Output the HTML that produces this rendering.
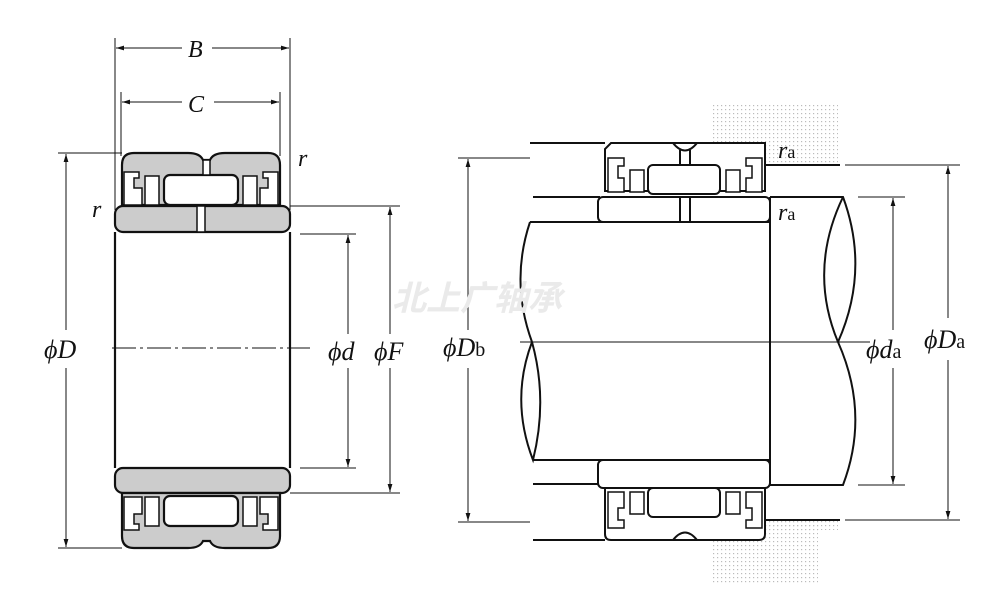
<!DOCTYPE html>
<html><head><meta charset="utf-8"><style>
html,body{margin:0;padding:0;background:#fff;width:1005px;height:600px;overflow:hidden}
svg{display:block}
text{font-family:"Liberation Serif",serif;font-style:italic;fill:#111}
.s{font-style:normal}
</style></head><body>
<svg width="1005" height="600" viewBox="0 0 1005 600">
<defs>
<pattern id="dots" width="4" height="4" patternUnits="userSpaceOnUse"><rect x="1" y="1" width="1.2" height="1.2" fill="#bbb"/></pattern>
<marker id="a" viewBox="0 0 10 10" refX="10" refY="5" markerWidth="8" markerHeight="8" orient="auto-start-reverse"><path d="M0,2 L10,5 L0,8 z" fill="#111"/></marker>
</defs>
<g stroke="#111" stroke-width="1" fill="none">
<!-- LEFT dimension lines -->
<line x1="115" y1="38" x2="115" y2="210"/><line x1="290" y1="38" x2="290" y2="210"/>
<line x1="121" y1="92" x2="121" y2="156"/><line x1="280" y1="92" x2="280" y2="156"/>
<line x1="116" y1="48" x2="182" y2="48" marker-start="url(#a)"/><line x1="212" y1="48" x2="289" y2="48" marker-end="url(#a)"/>
<line x1="122" y1="102" x2="182" y2="102" marker-start="url(#a)"/><line x1="214" y1="102" x2="279" y2="102" marker-end="url(#a)"/>
<line x1="58" y1="153" x2="122" y2="153"/><line x1="58" y1="548" x2="122" y2="548"/>
<line x1="66" y1="154" x2="66" y2="330" marker-start="url(#a)"/><line x1="66" y1="368" x2="66" y2="547" marker-end="url(#a)"/>
<line x1="290" y1="206" x2="400" y2="206"/><line x1="290" y1="493" x2="400" y2="493"/>
<line x1="300" y1="234" x2="356" y2="234"/><line x1="300" y1="468" x2="356" y2="468"/>
<line x1="348" y1="235" x2="348" y2="334" marker-start="url(#a)"/><line x1="348" y1="368" x2="348" y2="467" marker-end="url(#a)"/>
<line x1="390" y1="207" x2="390" y2="334" marker-start="url(#a)"/><line x1="390" y1="368" x2="390" y2="492" marker-end="url(#a)"/>
<line x1="112" y1="348" x2="310" y2="348" stroke-dasharray="24,4,3,4"/>
</g>
<!-- LEFT bearing -->
<g stroke="#111" stroke-width="2.2">
<path d="M122,165 Q122,153 134,153 H188 Q200,153 203,160 H210 Q213,153 225,153 H268 Q280,153 280,165 V205 H122 Z" fill="#ccc"/>
<rect x="115" y="206" width="175" height="26" rx="8" fill="#ccc"/>
<rect x="115" y="468" width="175" height="25" rx="8" fill="#ccc"/>
<path d="M122,493 H280 V536 Q280,548 268,548 H225 Q213,548 210,541 H203 Q200,548 188,548 H134 Q122,548 122,536 Z" fill="#ccc"/>
<rect x="164" y="175" width="74" height="30" rx="6" fill="#fff"/>
<rect x="164" y="496" width="74" height="30" rx="6" fill="#fff"/>
<line x1="115" y1="232" x2="115" y2="468"/><line x1="290" y1="232" x2="290" y2="468"/>
<rect x="197" y="206" width="8" height="26" fill="#fff" stroke-width="1.5"/>
<rect x="203" y="160" width="7" height="15" fill="#fff" stroke-width="1.5"/>
</g>
<g stroke="#111" stroke-width="1.5" fill="#fff">
<path d="M124,172 h15 v6 h-5 v10 h8 v17 h-18 z"/><path d="M145,176 h14 v29 h-14 z"/>
<path d="M278,172 h-15 v6 h5 v10 h-8 v17 h18 z"/><path d="M257,176 h-14 v29 h14 z"/>
<path d="M124,530 h15 v-6 h-5 v-10 h8 v-17 h-18 z"/><path d="M145,526 h14 v-29 h-14 z"/>
<path d="M278,530 h-15 v-6 h5 v-10 h-8 v-17 h18 z"/><path d="M257,526 h-14 v-29 h14 z"/>
</g>
<text x="298" y="166" font-size="24">r</text>
<text x="92" y="217" font-size="24">r</text>
<text x="188" y="57" font-size="24">B</text>
<text x="188" y="112" font-size="24">C</text>
<text x="44" y="358" font-size="26">ϕD</text>
<text x="328" y="360" font-size="26">ϕd</text>
<text x="374" y="360" font-size="26">ϕF</text>

<!-- RIGHT -->
<rect x="713" y="103" width="125" height="62" fill="url(#dots)"/>
<rect x="765" y="520" width="73" height="10" fill="url(#dots)"/>
<rect x="713" y="522" width="105" height="62" fill="url(#dots)"/>
<g stroke="#111" stroke-width="1" fill="none">
<line x1="458" y1="158" x2="530" y2="158"/><line x1="458" y1="522" x2="530" y2="522"/>
<line x1="468" y1="159" x2="468" y2="330" marker-start="url(#a)"/><line x1="468" y1="368" x2="468" y2="521" marker-end="url(#a)"/>
<line x1="845" y1="165" x2="960" y2="165"/><line x1="845" y1="520" x2="960" y2="520"/>
<line x1="948" y1="166" x2="948" y2="318" marker-start="url(#a)"/><line x1="948" y1="360" x2="948" y2="519" marker-end="url(#a)"/>
<line x1="858" y1="197" x2="905" y2="197"/><line x1="858" y1="485" x2="905" y2="485"/>
<line x1="893" y1="198" x2="893" y2="330" marker-start="url(#a)"/><line x1="893" y1="368" x2="893" y2="484" marker-end="url(#a)"/>
<line x1="520" y1="342" x2="870" y2="342"/>
</g>
<g stroke="#111" stroke-width="2" fill="none">
<line x1="530" y1="143" x2="605" y2="143"/><line x1="533" y1="197" x2="600" y2="197"/>
<line x1="765" y1="165" x2="840" y2="165"/>
<line x1="533" y1="484" x2="600" y2="484"/><line x1="533" y1="540" x2="605" y2="540"/>
<line x1="765" y1="520" x2="840" y2="520"/>
<!-- shaft -->
<path d="M530,222 H770 V460 H533"/>
<path d="M530,222 Q510,282 532,342 Q548,400 533,460 Q510,400 532,342"/>
<path d="M770,197 H843 Q870,270 838,342 Q870,414 843,485 H770 V197"/>
<path d="M843,197 Q808,270 838,342"/>
<!-- bearing right -->
<path d="M611,143 H765 V191 H605 V149 Z" fill="#fff"/>
<rect x="598" y="197" width="172" height="25" rx="5" fill="#fff"/>
<rect x="598" y="460" width="172" height="28" rx="5" fill="#fff"/>
<path d="M605,488 H765 V534 Q765,540 759,540 H611 Q605,540 605,534 Z" fill="#fff"/>
<rect x="648" y="165" width="72" height="29" rx="5" fill="#fff"/>
<rect x="648" y="488" width="72" height="29" rx="5" fill="#fff"/>
<line x1="680" y1="150" x2="680" y2="165"/><line x1="690" y1="150" x2="690" y2="165"/>
<line x1="680" y1="197" x2="680" y2="222"/><line x1="690" y1="197" x2="690" y2="222"/>
<path d="M673,143 Q685,158 697,143"/><path d="M673,540 Q685,525 697,540"/>
</g>
<g stroke="#111" stroke-width="1.5" fill="#fff">
<path d="M608,158 h16 v8 h-6 v12 h6 v14 h-16 z"/><path d="M630,170 h14 v22 h-14 z"/>
<path d="M762,158 h-16 v8 h6 v12 h-6 v14 h16 z"/><path d="M740,170 h-14 v22 h14 z"/>
<path d="M608,528 h16 v-8 h-6 v-12 h6 v-16 h-16 z"/><path d="M630,514 h14 v-22 h-14 z"/>
<path d="M762,528 h-16 v-8 h6 v-12 h-6 v-16 h16 z"/><path d="M740,514 h-14 v-22 h14 z"/>
</g>
<text x="778" y="158" font-size="24">r<tspan class="s" font-size="18">a</tspan></text>
<text x="778" y="220" font-size="24">r<tspan class="s" font-size="18">a</tspan></text>
<text x="443" y="356" font-size="26">ϕD<tspan class="s" font-size="20">b</tspan></text>
<text x="866" y="358" font-size="26">ϕd<tspan class="s" font-size="20">a</tspan></text>
<text x="924" y="348" font-size="26">ϕD<tspan class="s" font-size="20">a</tspan></text>
<text x="392" y="310" font-size="34" style="font-family:'Noto Sans CJK SC',sans-serif;font-style:italic;font-weight:bold;fill:#eaeaea">北上广轴承</text>
</svg>
</body></html>
